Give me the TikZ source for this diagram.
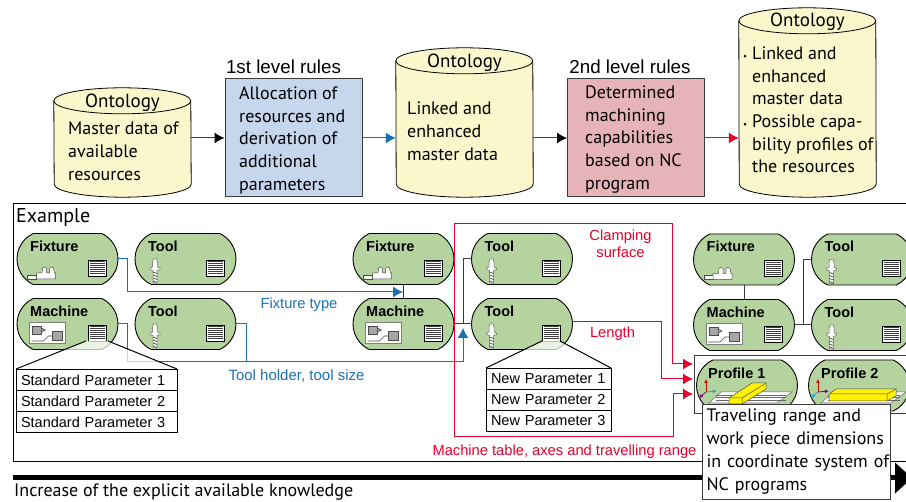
\documentclass[tikz,border=0pt]{standalone}
\usepackage{fontspec}
\setmainfont{PT Sans}
\newfontfamily\arialfont{Liberation Sans}
\usetikzlibrary{shapes.misc}
\usetikzlibrary{arrows.meta}

\definecolor{cylfill}{HTML}{FBF7CC}
\definecolor{bluebox}{HTML}{C6D6EC}
\definecolor{redbox}{HTML}{E6B4B8}
\definecolor{greenfill}{HTML}{B5D39F}
\definecolor{flowblue}{HTML}{1A70B8}
\definecolor{flowred}{HTML}{E6002A}
\definecolor{linkgray}{HTML}{3C3C3C}

\newcommand{\blt}{\makebox[9pt][l]{\fontsize{9}{9}\selectfont\textbullet}}

\begin{document}
\begin{tikzpicture}[x=1pt,y=-1pt]
\useasboundingbox (0,0) rectangle (906,502);
\tikzset{ontology/.style = {rectangle, inner sep=0, minimum width=137pt}}
\tikzset{cylline/.style = {draw=black, line width=.8pt, fill=cylfill}}
\tikzset{rulebox/.style = {rectangle, draw=linkgray, line width=1pt, inner sep=0, minimum width=137pt, minimum height=118pt}}
\tikzset{body/.style = {anchor=north west, align=left, inner sep=0, font=\fontsize{18}{22.7}\selectfont}}
\tikzset{title/.style = {inner sep=0, font=\arialfont\fontsize{18.8}{20}\selectfont}}
\tikzset{resource/.style = {rounded rectangle, rounded rectangle arc length=130, draw=black, line width=.9pt, fill=greenfill, inner sep=0, minimum width=101pt, minimum height=51pt}}
\tikzset{head/.style = {anchor=west, inner sep=0, font=\arialfont\bfseries\fontsize{14.5}{16}\selectfont}}
\tikzset{small/.style = {inner sep=0, font=\arialfont\fontsize{14.7}{16}\selectfont}}
\tikzset{param/.style = {rectangle, draw=black, line width=.9pt, fill=white, inner xsep=5pt, inner ysep=0, align=left, minimum height=21pt, font=\arialfont\fontsize{14.5}{16}\selectfont}}
\tikzset{edge/.style = {-{Latex[length=10pt,width=11pt]}, line width=1pt}}
\tikzset{link/.style = {draw=linkgray, line width=1pt}}

% small icons of the resources
\tikzset{paramicon/.pic = {
  \draw[black, line width=.9pt, fill=white] (-9,-8) rectangle (9,8);
  \foreach \y in {-6, -4, -2, 0, 2, 4, 6}
    {\draw[black!75, line width=1pt] (-7.5,\y) -- (7.5,\y);}
}}
\tikzset{toolicon/.pic = {
  \draw[black!60, fill=white, line width=.5pt] (-1.5,-9) -- (1.5,-9) -- (2.5,-6) -- (2.5,-1) -- (5,0) -- (5,1.5) -- (2,2.5) -- (2,15) -- (-2,15) -- (-2,2.5) -- (-5,1.5) -- (-5,0) -- (-2.5,-1) -- (-2.5,-6) -- cycle;
  \foreach \y in {4, 7, 10, 13}
    {\draw[black!65, line width=.8pt] (-2,\y) -- (2,\y+1.5);}
}}
\tikzset{fixicon/.pic = {
  \draw[black!70, fill=white, line width=.5pt] (0,4) rectangle (9,8);
  \draw[black!70, fill=white, line width=.5pt] (9,2) -- (14.5,2) -- (15,-3) -- (17,-4) -- (19,-3) -- (19,2) -- (22,2) -- (22,-3) -- (24,-4) -- (26,-3) -- (27,2) -- (28,2) -- (28,8) -- (9,8) -- cycle;
}}
\tikzset{machicon/.pic = {
  \draw[black!50, fill=white, line width=1pt] (0,0) rectangle (36,21);
  \draw[black!70, line width=.6pt] (2,18) -- (14,18) -- (19,13) -- (23,13);
  \draw[black!70, fill=black!35, line width=.5pt] (3,3) rectangle (12,11);
  \draw[black!70, fill=black!35, line width=.5pt] (12,5) -- (16,7) -- (12,9) -- cycle;
  \draw[black!70, fill=black!35, line width=.5pt] (23,8) rectangle (33,17);
}}

% frames
\draw[black, line width=1pt] (925,204) -- (13,204) -- (13,462) -- (925,462);

% upper row
\node[ontology, minimum height=109pt] (cylA) at (122.5,142.5) {};
\node[ontology, minimum height=149pt] (cylB) at (464.5,122.5) {};
\node[ontology, minimum height=189pt] (cylC) at (807.5,102.5) {};
\foreach \name in {cylA, cylB, cylC}
  {\draw[cylline] ([yshift=-13pt]\name.north west) arc[start angle=180, end angle=0, x radius=68.5pt, y radius=13pt] -- ([yshift=13pt]\name.south east) arc[start angle=0, end angle=-180, x radius=68.5pt, y radius=13pt] -- cycle;
   \draw[cylline, fill=none] ([yshift=-13pt]\name.north west) arc[start angle=180, end angle=360, x radius=68.5pt, y radius=13pt];}

\node[rulebox, fill=bluebox] (boxA) at (293.5,138) {};
\node[rulebox, fill=redbox] (boxB) at (636,138) {};

\foreach \name/\x/\y in {cylAname/122.5/103, cylBname/464.5/63, cylCname/807.5/22}
  {\node[inner sep=0, font=\fontsize{19}{20}\selectfont] (\name) at (\x,\y) {Ontology};}

\node[body] (cylAtext) at (68,122) {Master data of\\available\\resources};
\node[body] (boxAtext) at (239,86.5) {Allocation of\\resources and\\derivation of\\additional\\parameters};
\node[body] (cylBtext) at (407,102) {Linked and\\enhanced\\master data};
\node[body] (boxBtext) at (585,85.5) {Determined\\machining\\capabilities\\based on NC\\program};
\node[body] (cylCtext) at (743,46.5) {\blt Linked and\\\hspace{9pt}enhanced\\\hspace{9pt}master data\\\blt Possible capa-\\\hspace{9pt}bility profiles of\\\hspace{9pt}the resources};

\node[title] (boxAtitle) at (283.5,67) {1st level rules};
\node[title] (boxBtitle) at (630,67) {2nd level rules};

\draw[edge, draw=linkgray, -{Latex[length=10pt,width=11pt,black]}] (boxA.west -| cylA.east) -- (boxA.west);
\draw[edge, flowblue] (boxA.east) -- (boxA.east -| cylB.west);
\draw[edge, draw=linkgray, -{Latex[length=10pt,width=11pt,black]}] (boxB.west -| cylB.east) -- (boxB.west);
\draw[edge, flowred] (boxB.east) -- (boxB.east -| cylC.west);

\node[inner sep=0, font=\fontsize{20}{22}\selectfont, anchor=west] (example) at (16,218) {Example};

% blue lines below the resources
\coordinate (fixjoin) at (403,292);
\coordinate (machjoin) at (463,328);
\node[resource] (fixA) at (67.5,259) {};
\node[resource] (toolA) at (185.5,259) {};
\node[resource] (machA) at (67.5,324) {};
\node[resource] (toolB) at (185.5,324) {};

\draw[edge, flowblue] (fixA.east) -- (127,259) -- (127,292) -- (fixjoin);
\draw[edge, flowblue] (machA.east) -- (127,324) -- (127,362) -- (463,362) -- (machjoin);
\draw[line width=1pt, flowblue] (toolB.east) -- (246,324) -- (246,362);

\node[resource] (fixB) at (403.5,259) {};
\node[resource] (toolC) at (522,259) {};
\node[resource] (machB) at (403.5,324) {};
\node[resource] (toolD) at (522,324) {};
\node[resource] (fixC) at (744,259.5) {};
\node[resource] (toolE) at (862,259.5) {};
\node[resource] (machC) at (744,325) {};
\node[resource] (toolF) at (862,325) {};

\draw[link] (fixB) -- (machB);
\draw[link] (machB.east) -- (toolD.west);
\draw[link] (463,324) -- (463,259) -- (toolC.west);
\draw[link] (fixC) -- (machC);
\draw[link] (machC.east) -- (toolF.west);
\draw[link] (803,325) -- (803,259.5) -- (toolE.west);

\foreach \name/\txt/\sx in {fixA/Fixture/-37.5, toolA/Tool/-37.5, machA/Machine/-37.5, toolB/Tool/-37.5, fixB/Fixture/-37.5, toolC/Tool/-37.5, machB/Machine/-37.5, toolD/Tool/-37.5, fixC/Fixture/-37.5, toolE/Tool/-37.5, machC/Machine/-37.5, toolF/Tool/-37.5}
  {\node[head] (\name txt) at ([shift={(\sx,-13)}]\name.center) {\txt};
   \pic at ([shift={(29.5,9)}]\name.center) {paramicon};}

\foreach \name in {toolA, toolB, toolC, toolD, toolE, toolF}
  {\pic at ([shift={(-30.5,9)}]\name.center) {toolicon};}
\foreach \name in {fixA, fixB, fixC}
  {\pic at ([shift={(-40,12)}]\name.center) {fixicon};}
\foreach \name in {machA, machB, machC}
  {\pic at ([shift={(-38,-1)}]\name.center) {machicon};}

% parameter tables
\fill[white, opacity=.72] (86,341) -- (108,341) -- (177,369) -- (16,369) -- cycle;
\fill[white, opacity=.72] (542,341) -- (560,341) -- (611,368) -- (486,368) -- cycle;
\draw[black, line width=1pt] (16,369) -- (86,341) (108,341) -- (177,369);
\draw[black, line width=1pt] (486,368) -- (542,341) (560,341) -- (611,368);

\foreach \name/\y/\i in {stdA/380/1, stdB/401/2, stdC/422/3}
  {\node[param, text width=151pt] (\name) at (96.5,\y) {Standard Parameter \i};}
\foreach \name/\y/\i in {newA/379/1, newB/400/2, newC/421/3}
  {\node[param, text width=115pt] (\name) at (548.5,\y) {New Parameter \i};}

% red lines
\coordinate (tipA) at (693,364);
\coordinate (tipB) at (693,379);
\coordinate (tipC) at (693,394);
\draw[edge, flowred] (672,364) -- (tipA);
\draw[edge, flowred] ([yshift=2pt]toolD.east) -- (661,322) -- (661,379) -- (tipB);
\draw[edge, flowred] (673,394) -- (tipC);
\draw[line width=1pt, flowred] (672,364) -- (672,224) -- (454,224) -- (454,437) -- (673,437) -- (673,394);

% profiles
\draw[draw=linkgray, line width=1pt] (925,356) -- (694,356) -- (694,414) -- (925,414);
\node[resource] (profA) at (747,385.5) {};
\node[resource] (profB) at (859,385.5) {};
\node[head] (profAtxt) at (708,373) {Profile 1};
\node[head] (profBtxt) at (821,373) {Profile 2};
\foreach \xa/\xb in {0/0, 112/2}
  {\draw[black!60, fill=white, line width=.5pt] (721+\xa,392) -- (792+\xa+\xb,392) -- (777+\xa+\xb,403) -- (709+\xa,403) -- cycle;
   \foreach \y in {395, 397.5, 400}
     {\draw[black!60, line width=.5pt] (716+\xa,\y) -- (786+\xa+\xb,\y);}}
\foreach \x/\colr/\colc in {706/flowblue!60!cyan/violet, 818/violet/flowblue!60!cyan}
  {\draw[-{Latex[length=4pt,width=4pt]}, red!85!black, line width=.8pt] (\x,392) -- (\x,379);
   \draw[-{Latex[length=4pt,width=4pt]}, \colr, line width=.8pt] (\x,392) -- (\x+11,391);
   \draw[-{Latex[length=4pt,width=4pt]}, \colc, line width=.8pt] (\x,392) -- (\x-7,398);}
\draw[black!70, fill=yellow, line width=.5pt] (729,398) -- (752,383) -- (766,383) -- (766,389) -- (742,404) -- (729,404) -- cycle;
\draw[black!70, line width=.5pt] (729,398) -- (742,398) -- (766,383) (742,398) -- (742,404);
\draw[black!70, fill=yellow, line width=.5pt] (829,394) -- (836,389) -- (896,389) -- (896,396) -- (887,401) -- (829,401) -- cycle;
\draw[black!70, line width=.5pt] (829,394) -- (887,394) -- (896,389) (887,394) -- (887,401);

% labels of the lines
\node[small, text=flowblue] (fixlabel) at (299,304.5) {Fixture type};
\node[small, text=flowblue, font=\arialfont\fontsize{15}{16}\selectfont] (toollabel) at (296.5,376.5) {Tool holder, tool size};
\node[small, text=flowred, align=center] (clamplabel) at (620.5,243.5) {Clamping\\[1pt]surface};
\node[small, text=flowred] (lengthlabel) at (612.5,333.5) {Length};
\node[small, text=flowred] (tablelabel) at (564.5,451.5) {Machine table, axes and travelling range};

% lower arrow
\coordinate (arrowstart) at (13,478);
\coordinate (arrowend) at (912,478);
\draw[-{Triangle[length=17pt,width=30pt]}, line width=5pt] (arrowstart) -- (arrowend);
\node[inner sep=0, anchor=west, font=\fontsize{18}{20}\selectfont] (increase) at (14,492.5) {Increase of the explicit available knowledge};

\node[rectangle, draw=linkgray, line width=1pt, fill=white, anchor=north west, align=left, inner sep=0, text width=186pt, minimum width=188pt, minimum height=95pt, font=\fontsize{18}{23}\selectfont] (note) at (702,404) {\hspace*{3pt}Traveling range and\\\hspace*{3pt}work piece dimensions\\\hspace*{3pt}in coordinate system of\\\hspace*{3pt}NC programs};
\end{tikzpicture}
\end{document}
